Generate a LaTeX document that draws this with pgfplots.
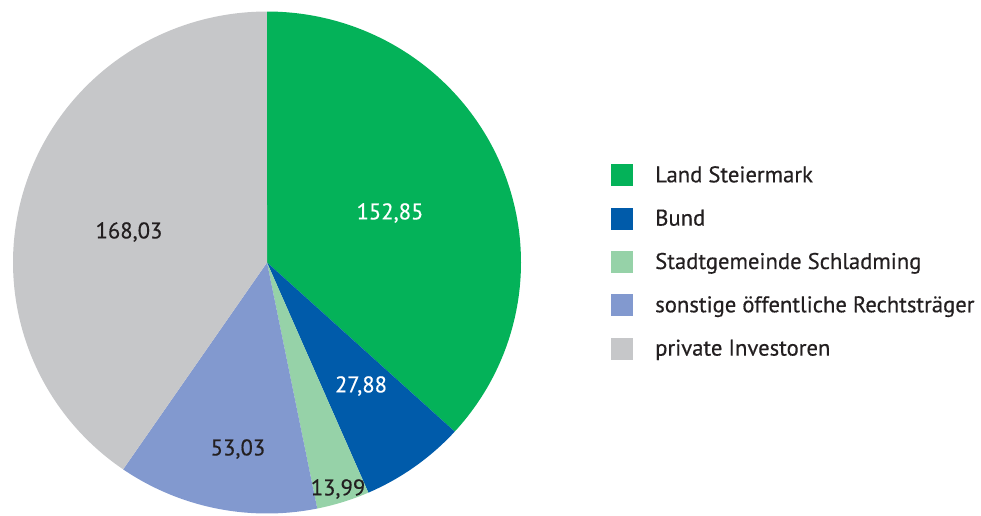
\documentclass[border=0pt]{standalone}
\usepackage{fontspec}
\setmainfont[FakeBold=0.4]{PT Sans}
\usepackage{pgfplots}
\usepackage{pgfplotstable}
\pgfplotsset{compat=1.18}
\definecolor{cLand}{RGB}{4,178,89}
\definecolor{cBund}{RGB}{0,91,170}
\definecolor{cStadt}{RGB}{150,210,168}
\definecolor{cSonst}{RGB}{130,153,207}
\definecolor{cPriv}{RGB}{198,199,201}
\definecolor{txt}{RGB}{35,31,32}
\pgfplotstableread{
value
152.85
27.88
13.99
53.03
168.03
}\piedata
\def\cx{267}\def\cy{252.5}\def\rx{254}\def\ry{251}
\begin{document}%
\begin{tikzpicture}
\pgfplotstablegetelem{0}{value}\of\piedata \let\vA\pgfplotsretval
\pgfplotstablegetelem{1}{value}\of\piedata \let\vB\pgfplotsretval
\pgfplotstablegetelem{2}{value}\of\piedata \let\vC\pgfplotsretval
\pgfplotstablegetelem{3}{value}\of\piedata \let\vD\pgfplotsretval
\pgfplotstablegetelem{4}{value}\of\piedata \let\vE\pgfplotsretval
\pgfmathsetmacro\tot{\vA+\vB+\vC+\vD+\vE}
\pgfmathsetmacro\aA{90}
\pgfmathsetmacro\aB{\aA-360*(\vA/\tot)}
\pgfmathsetmacro\aC{\aB-360*(\vB/\tot)}
\pgfmathsetmacro\aD{\aC-360*(\vC/\tot)}
\pgfmathsetmacro\aE{\aD-360*(\vD/\tot)}
\pgfmathsetmacro\aF{\aE-360*(\vE/\tot)}
\begin{axis}[
  scale only axis, width=735.75pt, height=386.25pt,
  xmin=0, xmax=981, ymin=0, ymax=515, hide axis,
  legend image code/.code={\fill[#1] (0pt,-8.25pt) rectangle (16.5pt,8.25pt);},
  legend cell align=left,
  legend style={at={(axis description cs:0.6228,0.6816)}, anchor=north west,
    draw=none, fill=none, inner sep=0pt, row sep=16pt, column sep=0pt,
    font=\fontsize{17}{20}\selectfont, text=txt,
    nodes={inner sep=0pt}},
  /tikz/every odd column/.append style={column sep=16.5pt},
]
\coordinate (BL) at (rel axis cs:0,0);
\coordinate (TR) at (rel axis cs:1,1);
\addplot[fill=cLand, draw=none, domain=\aB:\aA, samples=120, variable=\t]
  ({\cx+\rx*cos(\t)},{\cy+\ry*sin(\t)}) -- (axis cs:\cx,\cy) -- cycle;
\addlegendentry{Land Steiermark}
\addplot[fill=cBund, draw=none, domain=\aC:\aB, samples=40, variable=\t]
  ({\cx+\rx*cos(\t)},{\cy+\ry*sin(\t)}) -- (axis cs:\cx,\cy) -- cycle;
\addlegendentry{Bund}
\addplot[fill=cStadt, draw=none, domain=\aD:\aC, samples=30, variable=\t]
  ({\cx+\rx*cos(\t)},{\cy+\ry*sin(\t)}) -- (axis cs:\cx,\cy) -- cycle;
\addlegendentry{Stadtgemeinde Schladming}
\addplot[fill=cSonst, draw=none, domain=\aE:\aD, samples=60, variable=\t]
  ({\cx+\rx*cos(\t)},{\cy+\ry*sin(\t)}) -- (axis cs:\cx,\cy) -- cycle;
\addlegendentry{sonstige öffentliche Rechtsträger}
\addplot[fill=cPriv, draw=none, domain=\aF:\aE, samples=140, variable=\t]
  ({\cx+\rx*cos(\t)},{\cy+\ry*sin(\t)}) -- (axis cs:\cx,\cy) -- cycle;
\addlegendentry{private Investoren}
\begin{scope}[font=\fontsize{17}{20}\selectfont]
\node[text=white] at (axis cs:390,302) {152,85};
\node[text=white] at (axis cs:361,129) {27,88};
\node[text=txt] at (axis cs:338,26) {13,99};
\node[text=txt] at (axis cs:238,66) {53,03};
\node[text=txt] at (axis cs:129,283) {168,03};
\end{scope}
\end{axis}
\pgfresetboundingbox
\path[use as bounding box] (BL) rectangle (TR);
\end{tikzpicture}%
\end{document}
